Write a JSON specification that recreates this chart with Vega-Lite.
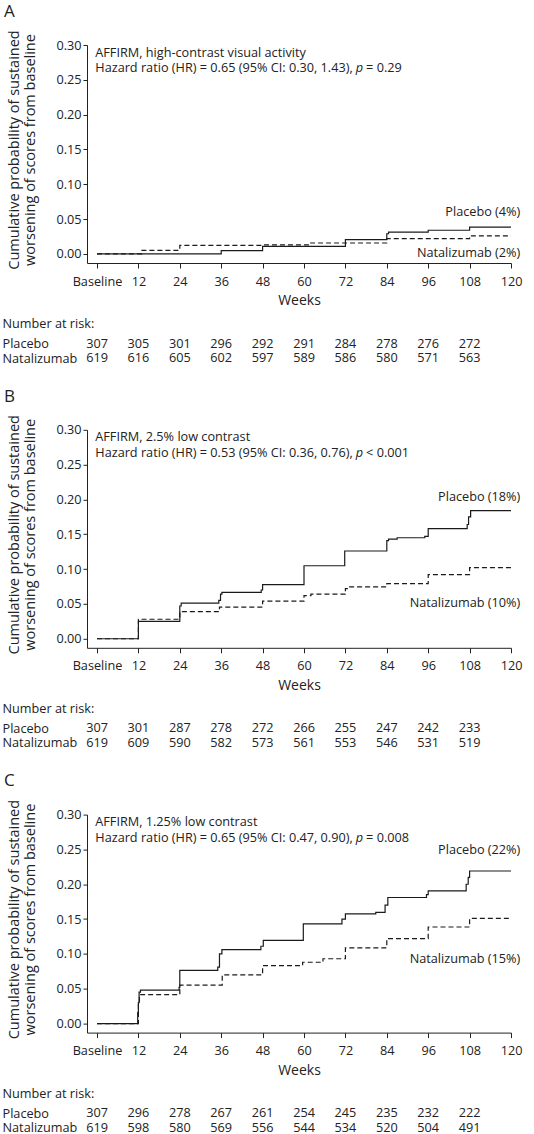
{
  "$schema": "https://vega.github.io/schema/vega-lite/v6.json",
  "padding": {"left": 2, "top": 2, "right": 5, "bottom": 0},
  "background": "white",
  "config": {
    "font": "Open Sans",
    "view": {"stroke": null},
    "axis": {"domainColor": "#222", "tickColor": "#222", "labelColor": "#222", "titleColor": "#222", "labelFontSize": 12.7, "titleFontSize": 14, "titleFontWeight": "normal", "grid": false, "labelFont": "Open Sans", "titleFont": "Open Sans"},
    "text": {"font": "Open Sans", "fontSize": 12.7, "color": "#222"},
    "title": {"fontSize": 17, "fontWeight": "normal", "anchor": "start", "frame": "bounds", "color": "#222", "font": "Open Sans", "baseline": "alphabetic", "offset": 9, "dx": -3}
  },
  "datasets": {
    "curves": [
      {"panel": "A", "group": "Placebo", "week": 0, "p": 0},
      {"panel": "A", "group": "Placebo", "week": 36, "p": 0.0048},
      {"panel": "A", "group": "Placebo", "week": 48, "p": 0.011},
      {"panel": "A", "group": "Placebo", "week": 72, "p": 0.0205},
      {"panel": "A", "group": "Placebo", "week": 84, "p": 0.029},
      {"panel": "A", "group": "Placebo", "week": 84.5, "p": 0.0314},
      {"panel": "A", "group": "Placebo", "week": 96, "p": 0.034},
      {"panel": "A", "group": "Placebo", "week": 108, "p": 0.0386},
      {"panel": "A", "group": "Placebo", "week": 120, "p": 0.0386},
      {"panel": "A", "group": "Natalizumab", "week": 0, "p": 0},
      {"panel": "A", "group": "Natalizumab", "week": 13, "p": 0.0052},
      {"panel": "A", "group": "Natalizumab", "week": 24, "p": 0.0124},
      {"panel": "A", "group": "Natalizumab", "week": 48, "p": 0.013},
      {"panel": "A", "group": "Natalizumab", "week": 61.5, "p": 0.0157},
      {"panel": "A", "group": "Natalizumab", "week": 84, "p": 0.0219},
      {"panel": "A", "group": "Natalizumab", "week": 108, "p": 0.026},
      {"panel": "A", "group": "Natalizumab", "week": 120, "p": 0.026},
      {"panel": "B", "group": "Placebo", "week": 0, "p": 0},
      {"panel": "B", "group": "Placebo", "week": 12, "p": 0.0248},
      {"panel": "B", "group": "Placebo", "week": 24, "p": 0.047},
      {"panel": "B", "group": "Placebo", "week": 24.4, "p": 0.051},
      {"panel": "B", "group": "Placebo", "week": 35.3, "p": 0.055},
      {"panel": "B", "group": "Placebo", "week": 35.8, "p": 0.064},
      {"panel": "B", "group": "Placebo", "week": 36.2, "p": 0.0667},
      {"panel": "B", "group": "Placebo", "week": 47.6, "p": 0.07},
      {"panel": "B", "group": "Placebo", "week": 48, "p": 0.0776},
      {"panel": "B", "group": "Placebo", "week": 60, "p": 0.1048},
      {"panel": "B", "group": "Placebo", "week": 71.8, "p": 0.126},
      {"panel": "B", "group": "Placebo", "week": 84, "p": 0.141},
      {"panel": "B", "group": "Placebo", "week": 84.5, "p": 0.143},
      {"panel": "B", "group": "Placebo", "week": 87, "p": 0.145},
      {"panel": "B", "group": "Placebo", "week": 95, "p": 0.147},
      {"panel": "B", "group": "Placebo", "week": 96, "p": 0.158},
      {"panel": "B", "group": "Placebo", "week": 107.3, "p": 0.164},
      {"panel": "B", "group": "Placebo", "week": 107.7, "p": 0.175},
      {"panel": "B", "group": "Placebo", "week": 108.3, "p": 0.184},
      {"panel": "B", "group": "Placebo", "week": 120, "p": 0.184},
      {"panel": "B", "group": "Natalizumab", "week": 0, "p": 0},
      {"panel": "B", "group": "Natalizumab", "week": 12, "p": 0.028},
      {"panel": "B", "group": "Natalizumab", "week": 24, "p": 0.039},
      {"panel": "B", "group": "Natalizumab", "week": 35.5, "p": 0.0455},
      {"panel": "B", "group": "Natalizumab", "week": 48, "p": 0.054},
      {"panel": "B", "group": "Natalizumab", "week": 60, "p": 0.062},
      {"panel": "B", "group": "Natalizumab", "week": 62, "p": 0.064},
      {"panel": "B", "group": "Natalizumab", "week": 72, "p": 0.072},
      {"panel": "B", "group": "Natalizumab", "week": 73, "p": 0.0745},
      {"panel": "B", "group": "Natalizumab", "week": 84, "p": 0.079},
      {"panel": "B", "group": "Natalizumab", "week": 96, "p": 0.092},
      {"panel": "B", "group": "Natalizumab", "week": 108, "p": 0.102},
      {"panel": "B", "group": "Natalizumab", "week": 120, "p": 0.102},
      {"panel": "C", "group": "Placebo", "week": 0, "p": 0},
      {"panel": "C", "group": "Placebo", "week": 11.8, "p": 0.016},
      {"panel": "C", "group": "Placebo", "week": 12, "p": 0.03},
      {"panel": "C", "group": "Placebo", "week": 12.2, "p": 0.045},
      {"panel": "C", "group": "Placebo", "week": 12.6, "p": 0.048},
      {"panel": "C", "group": "Placebo", "week": 23.8, "p": 0.052},
      {"panel": "C", "group": "Placebo", "week": 24, "p": 0.0762},
      {"panel": "C", "group": "Placebo", "week": 35, "p": 0.081},
      {"panel": "C", "group": "Placebo", "week": 35.5, "p": 0.1},
      {"panel": "C", "group": "Placebo", "week": 36.2, "p": 0.106},
      {"panel": "C", "group": "Placebo", "week": 47.5, "p": 0.111},
      {"panel": "C", "group": "Placebo", "week": 48.2, "p": 0.1195},
      {"panel": "C", "group": "Placebo", "week": 59.8, "p": 0.143},
      {"panel": "C", "group": "Placebo", "week": 71, "p": 0.15},
      {"panel": "C", "group": "Placebo", "week": 72, "p": 0.1576},
      {"panel": "C", "group": "Placebo", "week": 80.8, "p": 0.1595},
      {"panel": "C", "group": "Placebo", "week": 83.5, "p": 0.17},
      {"panel": "C", "group": "Placebo", "week": 84.3, "p": 0.181},
      {"panel": "C", "group": "Placebo", "week": 95.5, "p": 0.185},
      {"panel": "C", "group": "Placebo", "week": 96, "p": 0.1905},
      {"panel": "C", "group": "Placebo", "week": 107, "p": 0.2},
      {"panel": "C", "group": "Placebo", "week": 107.6, "p": 0.21},
      {"panel": "C", "group": "Placebo", "week": 108, "p": 0.219},
      {"panel": "C", "group": "Placebo", "week": 120, "p": 0.219},
      {"panel": "C", "group": "Natalizumab", "week": 0, "p": 0},
      {"panel": "C", "group": "Natalizumab", "week": 12, "p": 0.03},
      {"panel": "C", "group": "Natalizumab", "week": 12.3, "p": 0.0414},
      {"panel": "C", "group": "Natalizumab", "week": 24, "p": 0.0552},
      {"panel": "C", "group": "Natalizumab", "week": 36.3, "p": 0.07},
      {"panel": "C", "group": "Natalizumab", "week": 48, "p": 0.0833},
      {"panel": "C", "group": "Natalizumab", "week": 59.6, "p": 0.088},
      {"panel": "C", "group": "Natalizumab", "week": 65.5, "p": 0.093},
      {"panel": "C", "group": "Natalizumab", "week": 72, "p": 0.1086},
      {"panel": "C", "group": "Natalizumab", "week": 84, "p": 0.122},
      {"panel": "C", "group": "Natalizumab", "week": 96, "p": 0.1386},
      {"panel": "C", "group": "Natalizumab", "week": 108, "p": 0.151},
      {"panel": "C", "group": "Natalizumab", "week": 120, "p": 0.151}
    ],
    "risk": [
      {"panel": "A", "group": "Placebo", "week": 0, "n": 307},
      {"panel": "A", "group": "Placebo", "week": 12, "n": 305},
      {"panel": "A", "group": "Placebo", "week": 24, "n": 301},
      {"panel": "A", "group": "Placebo", "week": 36, "n": 296},
      {"panel": "A", "group": "Placebo", "week": 48, "n": 292},
      {"panel": "A", "group": "Placebo", "week": 60, "n": 291},
      {"panel": "A", "group": "Placebo", "week": 72, "n": 284},
      {"panel": "A", "group": "Placebo", "week": 84, "n": 278},
      {"panel": "A", "group": "Placebo", "week": 96, "n": 276},
      {"panel": "A", "group": "Placebo", "week": 108, "n": 272},
      {"panel": "A", "group": "Natalizumab", "week": 0, "n": 619},
      {"panel": "A", "group": "Natalizumab", "week": 12, "n": 616},
      {"panel": "A", "group": "Natalizumab", "week": 24, "n": 605},
      {"panel": "A", "group": "Natalizumab", "week": 36, "n": 602},
      {"panel": "A", "group": "Natalizumab", "week": 48, "n": 597},
      {"panel": "A", "group": "Natalizumab", "week": 60, "n": 589},
      {"panel": "A", "group": "Natalizumab", "week": 72, "n": 586},
      {"panel": "A", "group": "Natalizumab", "week": 84, "n": 580},
      {"panel": "A", "group": "Natalizumab", "week": 96, "n": 571},
      {"panel": "A", "group": "Natalizumab", "week": 108, "n": 563},
      {"panel": "B", "group": "Placebo", "week": 0, "n": 307},
      {"panel": "B", "group": "Placebo", "week": 12, "n": 301},
      {"panel": "B", "group": "Placebo", "week": 24, "n": 287},
      {"panel": "B", "group": "Placebo", "week": 36, "n": 278},
      {"panel": "B", "group": "Placebo", "week": 48, "n": 272},
      {"panel": "B", "group": "Placebo", "week": 60, "n": 266},
      {"panel": "B", "group": "Placebo", "week": 72, "n": 255},
      {"panel": "B", "group": "Placebo", "week": 84, "n": 247},
      {"panel": "B", "group": "Placebo", "week": 96, "n": 242},
      {"panel": "B", "group": "Placebo", "week": 108, "n": 233},
      {"panel": "B", "group": "Natalizumab", "week": 0, "n": 619},
      {"panel": "B", "group": "Natalizumab", "week": 12, "n": 609},
      {"panel": "B", "group": "Natalizumab", "week": 24, "n": 590},
      {"panel": "B", "group": "Natalizumab", "week": 36, "n": 582},
      {"panel": "B", "group": "Natalizumab", "week": 48, "n": 573},
      {"panel": "B", "group": "Natalizumab", "week": 60, "n": 561},
      {"panel": "B", "group": "Natalizumab", "week": 72, "n": 553},
      {"panel": "B", "group": "Natalizumab", "week": 84, "n": 546},
      {"panel": "B", "group": "Natalizumab", "week": 96, "n": 531},
      {"panel": "B", "group": "Natalizumab", "week": 108, "n": 519},
      {"panel": "C", "group": "Placebo", "week": 0, "n": 307},
      {"panel": "C", "group": "Placebo", "week": 12, "n": 296},
      {"panel": "C", "group": "Placebo", "week": 24, "n": 278},
      {"panel": "C", "group": "Placebo", "week": 36, "n": 267},
      {"panel": "C", "group": "Placebo", "week": 48, "n": 261},
      {"panel": "C", "group": "Placebo", "week": 60, "n": 254},
      {"panel": "C", "group": "Placebo", "week": 72, "n": 245},
      {"panel": "C", "group": "Placebo", "week": 84, "n": 235},
      {"panel": "C", "group": "Placebo", "week": 96, "n": 232},
      {"panel": "C", "group": "Placebo", "week": 108, "n": 222},
      {"panel": "C", "group": "Natalizumab", "week": 0, "n": 619},
      {"panel": "C", "group": "Natalizumab", "week": 12, "n": 598},
      {"panel": "C", "group": "Natalizumab", "week": 24, "n": 580},
      {"panel": "C", "group": "Natalizumab", "week": 36, "n": 569},
      {"panel": "C", "group": "Natalizumab", "week": 48, "n": 556},
      {"panel": "C", "group": "Natalizumab", "week": 60, "n": 544},
      {"panel": "C", "group": "Natalizumab", "week": 72, "n": 534},
      {"panel": "C", "group": "Natalizumab", "week": 84, "n": 520},
      {"panel": "C", "group": "Natalizumab", "week": 96, "n": 504},
      {"panel": "C", "group": "Natalizumab", "week": 108, "n": 491}
    ],
    "notes": [
      {"panel": "A", "line1": "AFFIRM, high-contrast visual activity", "line2": "Hazard ratio (HR) = 0.65 (95% CI: 0.30, 1.43),", "ptail": "= 0.29"},
      {"panel": "B", "line1": "AFFIRM, 2.5% low contrast", "line2": "Hazard ratio (HR) = 0.53 (95% CI: 0.36, 0.76),", "ptail": "< 0.001"},
      {"panel": "C", "line1": "AFFIRM, 1.25% low contrast", "line2": "Hazard ratio (HR) = 0.65 (95% CI: 0.47, 0.90),", "ptail": "= 0.008"}
    ],
    "labels": [
      {"panel": "A", "group": "Placebo", "label": "Placebo (4%)"},
      {"panel": "A", "group": "Natalizumab", "label": "Natalizumab (2%)"},
      {"panel": "B", "group": "Placebo", "label": "Placebo (18%)"},
      {"panel": "B", "group": "Natalizumab", "label": "Natalizumab (10%)"},
      {"panel": "C", "group": "Placebo", "label": "Placebo (22%)"},
      {"panel": "C", "group": "Natalizumab", "label": "Natalizumab (15%)"}
    ]
  },
  "bounds": "flush",
  "spacing": 61.4,
  "vconcat": [
    {
      "width": 424, "height": 218,
      "title": {"text": "A"},
      "layer": [
        {
          "data": {"name": "curves"},
          "transform": [{"filter": "datum.panel == 'A'"}],
          "mark": {"type": "line", "interpolate": "step-after", "color": "#1a1a1a", "strokeWidth": 1.2},
          "encoding": {
            "x": {"field": "week", "type": "quantitative", "scale": {"domain": [-2.9, 120], "nice": false, "zero": false},
                  "axis": {"values": [0, 12, 24, 36, 48, 60, 72, 84, 96, 108, 120], "tickCount": 12, "labelExpr": "datum.value == 0 ? 'Baseline' : datum.label", "title": "Weeks", "tickSize": 5, "labelPadding": 7, "titlePadding": 6, "labelFlush": false, "labelOverlap": false}},
            "y": {"field": "p", "type": "quantitative", "scale": {"domain": [-0.013, 0.3], "nice": false, "zero": false},
                  "axis": {"values": [0, 0.05, 0.1, 0.15, 0.2, 0.25, 0.3], "tickCount": 10, "format": ".2f", "title": ["Cumulative probability of sustained", "worsening of scores from baseline"], "titleFontSize": 14.5, "titleY": 104.5, "tickSize": 4, "labelPadding": 2, "titlePadding": 18, "titleLineHeight": 16, "labelFlush": false, "labelOverlap": false}},
            "strokeDash": {"field": "group", "type": "nominal", "scale": {"domain": ["Placebo", "Natalizumab"], "range": [[1, 0], [5, 3]]}, "legend": null}
          }
        },
        {
          "data": {"name": "notes"}, "transform": [{"filter": "datum.panel == 'A'"}],
          "mark": {"type": "text", "align": "left", "baseline": "middle"},
          "encoding": {"x": {"datum": -0.5}, "y": {"datum": 0.289}, "text": {"field": "line1"}}
        },
        {
          "data": {"name": "notes"}, "transform": [{"filter": "datum.panel == 'A'"}],
          "mark": {"type": "text", "align": "left", "baseline": "middle"},
          "encoding": {"x": {"datum": -0.5}, "y": {"datum": 0.2666}, "text": {"field": "line2"}}
        },
        {
          "data": {"name": "notes"}, "transform": [{"filter": "datum.panel == 'A'"}],
          "mark": {"type": "text", "align": "left", "baseline": "middle", "fontStyle": "italic", "text": "p"},
          "encoding": {"x": {"datum": 75.0}, "y": {"datum": 0.2666}}
        },
        {
          "data": {"name": "notes"}, "transform": [{"filter": "datum.panel == 'A'"}],
          "mark": {"type": "text", "align": "left", "baseline": "middle"},
          "encoding": {"x": {"datum": 78.0}, "y": {"datum": 0.2666}, "text": {"field": "ptail"}}
        },
        {
          "data": {"name": "labels"}, "transform": [{"filter": "datum.panel == 'A' && datum.group == 'Placebo'"}],
          "mark": {"type": "text", "align": "right", "baseline": "middle"},
          "encoding": {"x": {"datum": 122.7}, "y": {"datum": 0.0607}, "text": {"field": "label"}}
        },
        {
          "data": {"name": "labels"}, "transform": [{"filter": "datum.panel == 'A' && datum.group == 'Natalizumab'"}],
          "mark": {"type": "text", "align": "right", "baseline": "middle"},
          "encoding": {"x": {"datum": 122.7}, "y": {"datum": 0.0014}, "text": {"field": "label"}}
        }
      ]
    },
    {
      "width": 424, "height": 43.5,
      "data": {"name": "risk"},
      "transform": [{"filter": "datum.panel == 'A'"}],
      "mark": {"type": "text", "align": "center", "baseline": "middle"},
      "encoding": {
        "x": {"field": "week", "type": "quantitative", "scale": {"domain": [-2.9, 120], "nice": false, "zero": false}, "axis": null},
        "y": {"field": "group", "type": "nominal", "scale": {"type": "point", "domain": ["Placebo", "Natalizumab"], "padding": 1, "align": 0.66},
              "axis": {"title": "Number at risk:", "titleAngle": 0, "titleAlign": "left", "titleBaseline": "middle", "titleX": -85, "titleY": -0.5, "titleFontSize": 12.7, "labelAlign": "left", "labelBaseline": "middle", "labelPadding": 85, "ticks": false, "tickSize": 0, "domain": false}},
        "text": {"field": "n", "type": "quantitative"}
      }
    },
    {
      "width": 424, "height": 218,
      "title": {"text": "B"},
      "layer": [
        {
          "data": {"name": "curves"},
          "transform": [{"filter": "datum.panel == 'B'"}],
          "mark": {"type": "line", "interpolate": "step-after", "color": "#1a1a1a", "strokeWidth": 1.2},
          "encoding": {
            "x": {"field": "week", "type": "quantitative", "scale": {"domain": [-2.9, 120], "nice": false, "zero": false},
                  "axis": {"values": [0, 12, 24, 36, 48, 60, 72, 84, 96, 108, 120], "tickCount": 12, "labelExpr": "datum.value == 0 ? 'Baseline' : datum.label", "title": "Weeks", "tickSize": 5, "labelPadding": 7, "titlePadding": 6, "labelFlush": false, "labelOverlap": false}},
            "y": {"field": "p", "type": "quantitative", "scale": {"domain": [-0.013, 0.3], "nice": false, "zero": false},
                  "axis": {"values": [0, 0.05, 0.1, 0.15, 0.2, 0.25, 0.3], "tickCount": 10, "format": ".2f", "title": ["Cumulative probability of sustained", "worsening of scores from baseline"], "titleFontSize": 14.5, "titleY": 104.5, "tickSize": 4, "labelPadding": 2, "titlePadding": 18, "titleLineHeight": 16, "labelFlush": false, "labelOverlap": false}},
            "strokeDash": {"field": "group", "type": "nominal", "scale": {"domain": ["Placebo", "Natalizumab"], "range": [[1, 0], [5, 3]]}, "legend": null}
          }
        },
        {
          "data": {"name": "notes"}, "transform": [{"filter": "datum.panel == 'B'"}],
          "mark": {"type": "text", "align": "left", "baseline": "middle"},
          "encoding": {"x": {"datum": -0.5}, "y": {"datum": 0.289}, "text": {"field": "line1"}}
        },
        {
          "data": {"name": "notes"}, "transform": [{"filter": "datum.panel == 'B'"}],
          "mark": {"type": "text", "align": "left", "baseline": "middle"},
          "encoding": {"x": {"datum": -0.5}, "y": {"datum": 0.2666}, "text": {"field": "line2"}}
        },
        {
          "data": {"name": "notes"}, "transform": [{"filter": "datum.panel == 'B'"}],
          "mark": {"type": "text", "align": "left", "baseline": "middle", "fontStyle": "italic", "text": "p"},
          "encoding": {"x": {"datum": 75.0}, "y": {"datum": 0.2666}}
        },
        {
          "data": {"name": "notes"}, "transform": [{"filter": "datum.panel == 'B'"}],
          "mark": {"type": "text", "align": "left", "baseline": "middle"},
          "encoding": {"x": {"datum": 78.0}, "y": {"datum": 0.2666}, "text": {"field": "ptail"}}
        },
        {
          "data": {"name": "labels"}, "transform": [{"filter": "datum.panel == 'B' && datum.group == 'Placebo'"}],
          "mark": {"type": "text", "align": "right", "baseline": "middle"},
          "encoding": {"x": {"datum": 122.7}, "y": {"datum": 0.2033}, "text": {"field": "label"}}
        },
        {
          "data": {"name": "labels"}, "transform": [{"filter": "datum.panel == 'B' && datum.group == 'Natalizumab'"}],
          "mark": {"type": "text", "align": "right", "baseline": "middle"},
          "encoding": {"x": {"datum": 122.7}, "y": {"datum": 0.0507}, "text": {"field": "label"}}
        }
      ]
    },
    {
      "width": 424, "height": 43.5,
      "data": {"name": "risk"},
      "transform": [{"filter": "datum.panel == 'B'"}],
      "mark": {"type": "text", "align": "center", "baseline": "middle"},
      "encoding": {
        "x": {"field": "week", "type": "quantitative", "scale": {"domain": [-2.9, 120], "nice": false, "zero": false}, "axis": null},
        "y": {"field": "group", "type": "nominal", "scale": {"type": "point", "domain": ["Placebo", "Natalizumab"], "padding": 1, "align": 0.66},
              "axis": {"title": "Number at risk:", "titleAngle": 0, "titleAlign": "left", "titleBaseline": "middle", "titleX": -85, "titleY": -0.5, "titleFontSize": 12.7, "labelAlign": "left", "labelBaseline": "middle", "labelPadding": 85, "ticks": false, "tickSize": 0, "domain": false}},
        "text": {"field": "n", "type": "quantitative"}
      }
    },
    {
      "width": 424, "height": 218,
      "title": {"text": "C"},
      "layer": [
        {
          "data": {"name": "curves"},
          "transform": [{"filter": "datum.panel == 'C'"}],
          "mark": {"type": "line", "interpolate": "step-after", "color": "#1a1a1a", "strokeWidth": 1.2},
          "encoding": {
            "x": {"field": "week", "type": "quantitative", "scale": {"domain": [-2.9, 120], "nice": false, "zero": false},
                  "axis": {"values": [0, 12, 24, 36, 48, 60, 72, 84, 96, 108, 120], "tickCount": 12, "labelExpr": "datum.value == 0 ? 'Baseline' : datum.label", "title": "Weeks", "tickSize": 5, "labelPadding": 7, "titlePadding": 6, "labelFlush": false, "labelOverlap": false}},
            "y": {"field": "p", "type": "quantitative", "scale": {"domain": [-0.013, 0.3], "nice": false, "zero": false},
                  "axis": {"values": [0, 0.05, 0.1, 0.15, 0.2, 0.25, 0.3], "tickCount": 10, "format": ".2f", "title": ["Cumulative probability of sustained", "worsening of scores from baseline"], "titleFontSize": 14.5, "titleY": 104.5, "tickSize": 4, "labelPadding": 2, "titlePadding": 18, "titleLineHeight": 16, "labelFlush": false, "labelOverlap": false}},
            "strokeDash": {"field": "group", "type": "nominal", "scale": {"domain": ["Placebo", "Natalizumab"], "range": [[1, 0], [5, 3]]}, "legend": null}
          }
        },
        {
          "data": {"name": "notes"}, "transform": [{"filter": "datum.panel == 'C'"}],
          "mark": {"type": "text", "align": "left", "baseline": "middle"},
          "encoding": {"x": {"datum": -0.5}, "y": {"datum": 0.289}, "text": {"field": "line1"}}
        },
        {
          "data": {"name": "notes"}, "transform": [{"filter": "datum.panel == 'C'"}],
          "mark": {"type": "text", "align": "left", "baseline": "middle"},
          "encoding": {"x": {"datum": -0.5}, "y": {"datum": 0.2666}, "text": {"field": "line2"}}
        },
        {
          "data": {"name": "notes"}, "transform": [{"filter": "datum.panel == 'C'"}],
          "mark": {"type": "text", "align": "left", "baseline": "middle", "fontStyle": "italic", "text": "p"},
          "encoding": {"x": {"datum": 75.0}, "y": {"datum": 0.2666}}
        },
        {
          "data": {"name": "notes"}, "transform": [{"filter": "datum.panel == 'C'"}],
          "mark": {"type": "text", "align": "left", "baseline": "middle"},
          "encoding": {"x": {"datum": 78.0}, "y": {"datum": 0.2666}, "text": {"field": "ptail"}}
        },
        {
          "data": {"name": "labels"}, "transform": [{"filter": "datum.panel == 'C' && datum.group == 'Placebo'"}],
          "mark": {"type": "text", "align": "right", "baseline": "middle"},
          "encoding": {"x": {"datum": 122.7}, "y": {"datum": 0.2497}, "text": {"field": "label"}}
        },
        {
          "data": {"name": "labels"}, "transform": [{"filter": "datum.panel == 'C' && datum.group == 'Natalizumab'"}],
          "mark": {"type": "text", "align": "right", "baseline": "middle"},
          "encoding": {"x": {"datum": 122.7}, "y": {"datum": 0.093}, "text": {"field": "label"}}
        }
      ]
    },
    {
      "width": 424, "height": 43.5,
      "data": {"name": "risk"},
      "transform": [{"filter": "datum.panel == 'C'"}],
      "mark": {"type": "text", "align": "center", "baseline": "middle"},
      "encoding": {
        "x": {"field": "week", "type": "quantitative", "scale": {"domain": [-2.9, 120], "nice": false, "zero": false}, "axis": null},
        "y": {"field": "group", "type": "nominal", "scale": {"type": "point", "domain": ["Placebo", "Natalizumab"], "padding": 1, "align": 0.66},
              "axis": {"title": "Number at risk:", "titleAngle": 0, "titleAlign": "left", "titleBaseline": "middle", "titleX": -85, "titleY": -0.5, "titleFontSize": 12.7, "labelAlign": "left", "labelBaseline": "middle", "labelPadding": 85, "ticks": false, "tickSize": 0, "domain": false}},
        "text": {"field": "n", "type": "quantitative"}
      }
    }
  ]
}
